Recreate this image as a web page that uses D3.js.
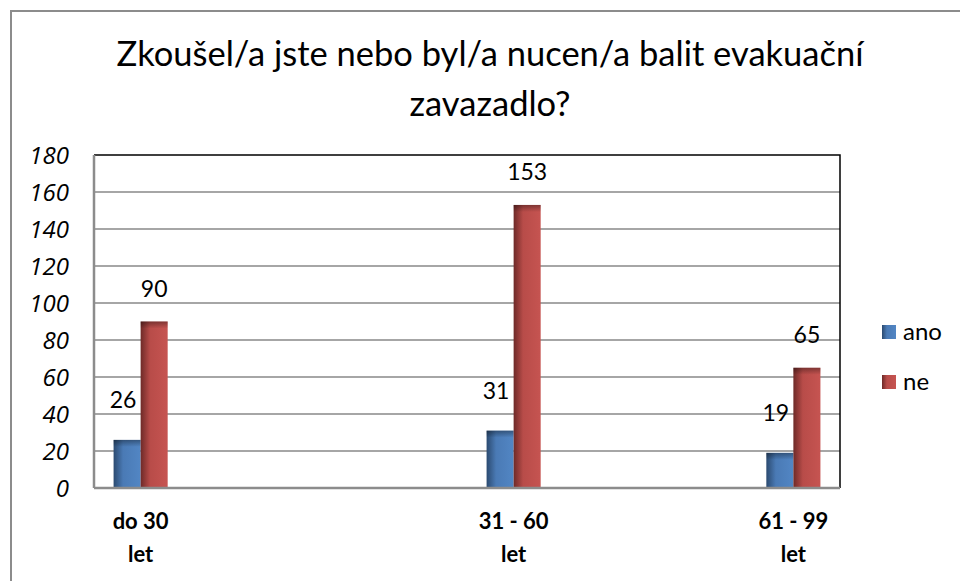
<!DOCTYPE html>
<html>
<head>
<meta charset="utf-8">
<script src="https://cdn.jsdelivr.net/npm/d3@7/dist/d3.min.js"></script>
<style>
  body { margin: 0; background: #fff; }
  svg { display: block; font-family: Lato, "Open Sans", sans-serif; }
</style>
</head>
<body>
<svg id="chart"></svg>
<script>
var viewWidth = 960;
var viewHeight = 581;

// data
var categories = ["do 30 let", "31 - 60 let", "61 - 99 let"];
var catSlots = [0, 4, 7];          // excel left empty categories in between
var slotCount = 8;
var seriesNames = ["ano", "ne"];
var ano = [26, 31, 19];
var ne = [90, 153, 65];
var yTicks = [0, 20, 40, 60, 80, 100, 120, 140, 160, 180];
var titleLines = ["Zkoušel/a jste nebo byl/a nucen/a balit evakuační", "zavazadlo?"];

var margin = {top: 155, right: 120, bottom: 93, left: 94};
var width = viewWidth - margin.left - margin.right;
var height = viewHeight - margin.top - margin.bottom;

var svg = d3.select("#chart")
    .attr("width", viewWidth)
    .attr("height", viewHeight);

var defs = svg.append("defs");
function barGradients(id, dark, mid, light) {
  var g = defs.append("linearGradient").attr("id", id).attr("x1", 0).attr("x2", 1).attr("y1", 0).attr("y2", 0);
  g.append("stop").attr("offset", "0%").attr("stop-color", dark);
  g.append("stop").attr("offset", "35%").attr("stop-color", mid);
  g.append("stop").attr("offset", "100%").attr("stop-color", light);
}
barGradients("gAno", "#2b4a70", "#4a7ab5", "#5286c4");
barGradients("gNe", "#6e2a28", "#b84c49", "#c65451");
var topShade = defs.append("linearGradient").attr("id", "gTop").attr("x1", 0).attr("x2", 0).attr("y1", 0).attr("y2", 1);
topShade.append("stop").attr("offset", "0%").attr("stop-color", "#000").attr("stop-opacity", 0.35);
topShade.append("stop").attr("offset", "100%").attr("stop-color", "#000").attr("stop-opacity", 0);

// outer chart border
svg.append("rect")
    .attr("x", 11).attr("y", 11)
    .attr("width", viewWidth + 20).attr("height", viewHeight + 20)
    .attr("fill", "none")
    .attr("stroke", "#8c8c8c")
    .attr("stroke-width", 2);

// title
svg.append("text")
    .attr("x", 490)
    .attr("y", 66)
    .attr("text-anchor", "middle")
    .style("font-size", "34.5px")
    .style("fill", "#000")
  .selectAll("tspan")
  .data(titleLines)
  .enter().append("tspan")
    .attr("x", 490)
    .attr("dy", function(d, i) { return i ? 50 : 0; })
    .text(function(d) { return d; });

var g = svg.append("g")
    .attr("transform", "translate(" + margin.left + "," + margin.top + ")");

var x = d3.scaleBand()
  .domain(d3.range(slotCount))
  .range([0, width]);
var y = d3.scaleLinear()
  .domain([0, 180])
  .range([height, 0]);
var barW = x.bandwidth() * 0.29;

// gridlines
g.append("g")
    .selectAll("line")
    .data(yTicks.slice(1, -1))
    .enter().append("line")
    .attr("x1", 0).attr("x2", width)
    .attr("y1", function(d) { return y(d); })
    .attr("y2", function(d) { return y(d); })
    .attr("stroke", "#a6a6a6")
    .attr("stroke-width", 2);

// plot border (top/right black)
g.append("path")
    .attr("d", "M0," + y(180) + "H" + width + "V" + height)
    .attr("fill", "none")
    .attr("stroke", "#000")
    .attr("stroke-width", 1.5);

// y axis labels drawn by hand so the font sticks
g.append("line")
    .attr("x1", 0).attr("x2", 0)
    .attr("y1", 0).attr("y2", height)
    .attr("stroke", "#8c8c8c")
    .attr("stroke-width", 2.5);
g.append("g")
    .attr("class", "yticks")
    .selectAll("text")
    .data(yTicks)
    .enter().append("text")
    .attr("x", -25)
    .attr("y", function(d) { return y(d); })
    .attr("dy", "0.36em")
    .attr("text-anchor", "end")
    .style("font-family", "'Open Sans', sans-serif")
    .style("font-style", "italic")
    .style("font-size", "24px")
    .text(function(d) { return d; });

var groups = g.selectAll(".grp")
    .data(categories)
    .enter().append("g")
    .attr("class", "grp")
    .attr("transform", function(d, i) {
      return "translate(" + (x(catSlots[i]) + x.bandwidth() / 2) + ",0)";
    });

var series = [ano, ne];
var fills = ["url(#gAno)", "url(#gNe)"];
series.forEach(function(vals, s) {
  groups.append("rect")
    .attr("x", s === 0 ? -barW : 0)
    .attr("y", function(d, i) { return y(vals[i]); })
    .attr("width", barW)
    .attr("height", function(d, i) { return height - y(vals[i]); })
    .attr("fill", fills[s]);
  groups.append("rect")
    .attr("x", s === 0 ? -barW : 0)
    .attr("y", function(d, i) { return y(vals[i]); })
    .attr("width", barW)
    .attr("height", 7)
    .attr("fill", "url(#gTop)");
  groups.append("text")
    .attr("x", s === 0 ? -barW / 2 - 4 : barW / 2)
    .attr("y", function(d, i) { return y(vals[i]) - (s === 0 ? 32 : 25); })
    .attr("text-anchor", "middle")
    .style("font-size", "23px")
    .text(function(d, i) { return vals[i]; });
});

// bottom axis
g.append("line")
    .attr("x1", 0).attr("x2", width)
    .attr("y1", height).attr("y2", height)
    .attr("stroke", "#8c8c8c")
    .attr("stroke-width", 2.5);

groups.append("text")
    .attr("y", height + 41)
    .attr("text-anchor", "middle")
    .style("font-size", "22px")
    .style("font-weight", "bold")
  .selectAll("tspan")
  .data(function(d) { var p = d.split(" let"); return [p[0], "let"]; })
  .enter().append("tspan")
    .attr("x", 0)
    .attr("dy", function(d, i) { return i ? 33 : 0; })
    .text(function(d) { return d; });

// legend
var legend = svg.append("g")
    .attr("transform", "translate(882,325)");
var lg = legend.selectAll("g")
    .data(seriesNames)
    .enter().append("g")
    .attr("transform", function(d, i) { return "translate(0," + (i * 50) + ")"; });
lg.append("rect")
    .attr("width", 14).attr("height", 14)
    .attr("fill", function(d, i) { return fills[i]; });
lg.append("text")
    .attr("x", 21).attr("y", 15)
    .style("font-size", "24px")
    .text(function(d) { return d; });
</script>
</body>
</html>
